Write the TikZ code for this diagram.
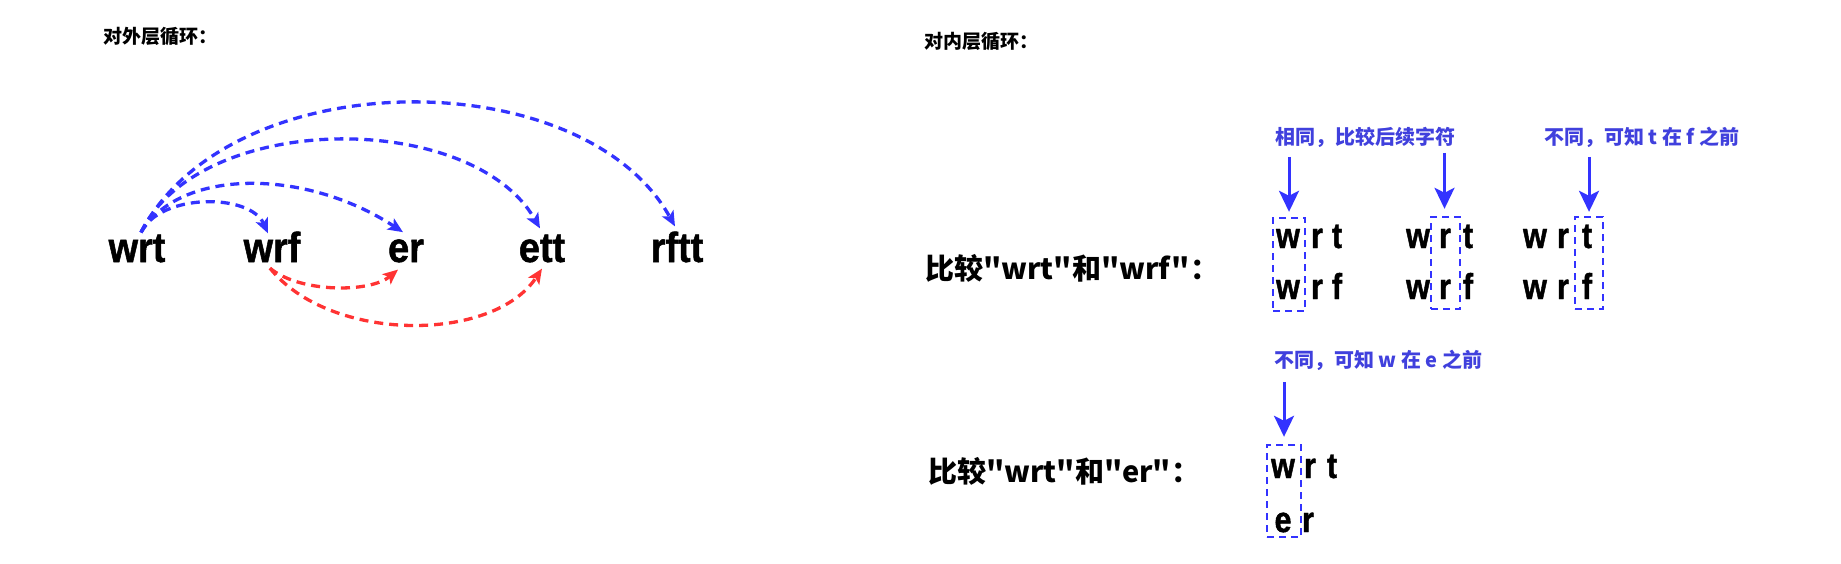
\documentclass[tikz,border=0pt]{standalone}
\usepackage{fontspec}
\newfontfamily\cjk{Noto Sans CJK SC}
\newfontfamily\latA{Liberation Sans Bold}[FakeStretch=0.9,FakeBold=1.2]
\newfontfamily\latB{Liberation Sans Bold}[FakeStretch=0.85,FakeBold=1.2]
\usetikzlibrary{arrows.meta,calc}
\definecolor{ablue}{HTML}{3333FF}
\definecolor{ared}{HTML}{FF3333}
\definecolor{lblue}{HTML}{4040DD}
\begin{document}
\begin{tikzpicture}[x=1pt,y=-1pt,
  word/.style={font=\latA\fontsize{42}{48}\selectfont, inner sep=0pt, anchor=base},
  ch/.style={font=\latB\fontsize{36}{40}\selectfont, inner sep=0pt, anchor=base},
  head/.style={font=\cjk\bfseries\fontsize{19}{22}\selectfont, inner sep=0pt, anchor=west},
  ttl/.style={font=\cjk\bfseries\fontsize{29}{34}\selectfont, inner sep=0pt, anchor=west},
  note/.style={font=\cjk\bfseries\fontsize{20}{24}\selectfont, text=lblue, inner sep=0pt, anchor=west},
  arcb/.style={draw=ablue, line width=3.3pt, dash pattern=on 9pt off 6pt, -{Stealth[length=15pt,width=13pt,inset=3.5pt]}},
  arcr/.style={draw=ared, line width=3.3pt, dash pattern=on 9pt off 6pt, -{Stealth[length=15pt,width=13pt,inset=3.5pt]}},
  varr/.style={draw=ablue, line width=3pt, -{Stealth[length=21pt,width=20pt,inset=5pt]}},
  dbox/.style={draw=ablue, line width=2.4pt, dash pattern=on 7pt off 5pt, inner sep=0pt},
]
\useasboundingbox[fill=white] (0,0) rectangle (1841,564);

% ---------- left part ----------
\node[head] (h1) at (103,36) {对外层循环：};

\node[word] (wrt)  at (137,262) {wrt};
\node[word] (wrf)  at (272,262) {wrf};
\node[word] (er)   at (406,262) {er};
\node[word] (ett)  at (542,262) {ett};
\node[word] (rftt) at (677,262) {rftt};

\draw[arcb] ($(wrt.north)+(4,-2)$) .. controls (160,193) and (250,193) .. ($(wrf.north)+(-4,2)$);
\draw[arcb] ($(wrt.north)+(4,-2)$) .. controls (180,168) and (305,168) .. ($(er.north)+(-3,-7)$);
\draw[arcb] ($(wrt.north)+(4,-2)$) .. controls (200,110) and (472,110) .. ($(ett.north)+(-2,-6)$);
\draw[arcb] ($(wrt.north)+(4,-2)$) .. controls (230,61) and (583,61) .. ($(rftt.north)+(-2,-5)$);

\draw[arcr] ($(wrf.south)+(-2,6)$) .. controls (300,293) and (370,293) .. ($(er.south)+(-8,7)$);
\draw[arcr] ($(wrf.south)+(-2,6)$) .. controls (330,343) and (493,343) .. ($(ett.south)+(0,6)$);

% ---------- right part ----------
\node[head] (h2) at (924,41) {对内层循环：};

\node[ttl] (t1) at (925,268) {比较"wrt"和"wrf"：};
\node[ttl] (t2) at (928,471) {比较"wrt"和"er"：};

\node[note] (n1) at (1275,137.5) {相同，比较后续字符};
\node[note] (n2) at (1544,137.5) {不同，可知 t 在 f 之前};
\node[note] (n3) at (1274,360) {不同，可知 w 在 e 之前};

% group 1
\node[ch] (g1a) at (1288,248) {w};
\node[ch] (g1b) at (1317,248) {r};
\node[ch] (g1c) at (1337,248) {t};
\node[ch] (g1d) at (1288,299) {w};
\node[ch] (g1e) at (1317,299) {r};
\node[ch] (g1f) at (1337,299) {f};
% group 2
\node[ch] (g2a) at (1418,248) {w};
\node[ch] (g2b) at (1445,248) {r};
\node[ch] (g2c) at (1468,248) {t};
\node[ch] (g2d) at (1418,299) {w};
\node[ch] (g2e) at (1445,299) {r};
\node[ch] (g2f) at (1468,299) {f};
% group 3
\node[ch] (g3a) at (1535,248) {w};
\node[ch] (g3b) at (1563,248) {r};
\node[ch] (g3c) at (1587,248) {t};
\node[ch] (g3d) at (1535,299) {w};
\node[ch] (g3e) at (1563,299) {r};
\node[ch] (g3f) at (1587,299) {f};
% group 4
\node[ch] (g4a) at (1283,478) {w};
\node[ch] (g4b) at (1310,478) {r};
\node[ch] (g4c) at (1332,478) {t};
\node[ch] (g4d) at (1283,532) {e};
\node[ch] (g4e) at (1308,532) {r};

% dashed boxes
\node[dbox, minimum width=32pt, minimum height=93pt] (b1) at (1289,264.5) {};
\node[dbox, minimum width=29pt, minimum height=92pt] (b2) at (1445.5,263) {};
\node[dbox, minimum width=28pt, minimum height=92pt] (b3) at (1589,263) {};
\node[dbox, minimum width=34pt, minimum height=92pt] (b4) at (1284,491) {};

% pointer arrows
\coordinate (p1) at (1289,157);
\coordinate (p2) at (1444.5,153);
\coordinate (p3) at (1589,157);
\coordinate (p4) at (1284,382);
\draw[varr] (p1) -- ($(b1.north)+(0,-5)$);
\draw[varr] (p2) -- ($(b2.north)+(-1,-7)$);
\draw[varr] (p3) -- ($(b3.north)+(0,-4)$);
\draw[varr] (p4) -- ($(b4.north)+(0,-7)$);
\end{tikzpicture}
\end{document}
